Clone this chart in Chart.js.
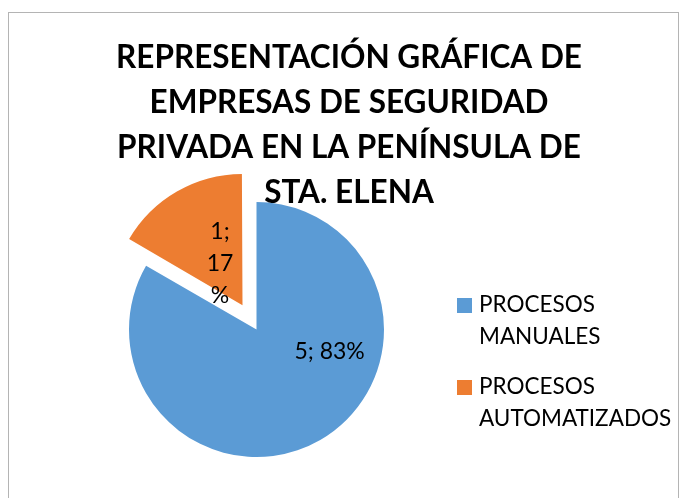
<!DOCTYPE html>
<html>
<head>
<meta charset="utf-8">
<script src="https://cdn.jsdelivr.net/npm/chart.js@4.4.0/dist/chart.umd.min.js"></script>
<style>
  html, body { margin: 0; padding: 0; background: #fff; }
  #wrap { position: relative; width: 686px; height: 498px; overflow: hidden; }
  #frame { position: absolute; left: 8px; top: 12px; width: 671px; height: 600px;
           border: 1px solid #b4b4b4; box-sizing: border-box; }
  #pie { position: absolute; left: 0; top: 0; }
</style>
</head>
<body>
<div id="wrap">
  <div id="frame"></div>
  <canvas id="pie" width="686" height="498"></canvas>
</div>
<script>
// datos del gráfico
const categories = ["PROCESOS MANUALES", "PROCESOS AUTOMATIZADOS"];
const values = [5, 1];
const percents = ["83%", "17 %"];
const titleLines = [
  "REPRESENTACIÓN GRÁFICA DE",
  "EMPRESAS DE SEGURIDAD",
  "PRIVADA EN LA PENÍNSULA DE",
  "STA. ELENA",
];
const colors = ["#5b9bd5", "#ed7d31"];

const FONT = "Lato, 'Noto Sans', sans-serif";

// título dibujado encima del gráfico (como en Excel, se superpone al pastel)
const titlePlugin = {
  id: "excelTitle",
  afterDraw(chart) {
    const ctx = chart.ctx;
    ctx.save();
    ctx.fillStyle = "#000";
    ctx.font = "bold 31.5px " + FONT;
    ctx.textAlign = "center";
    ctx.textBaseline = "middle";
    titleLines.forEach((line, i) => ctx.fillText(line, 349, 58 + i * 45));
    ctx.restore();
  },
};

// etiquetas "valor; %" dentro de cada sector
const labelPlugin = {
  id: "sliceLabels",
  afterDatasetsDraw(chart) {
    const ctx = chart.ctx;
    const meta = chart.getDatasetMeta(0);
    // posición dentro del sector: fracción del ángulo y del radio
    const place = [
      { a: 0.357, r: 0.6, lines: [values[0] + "; " + percents[0]] },
      { a: 0.525, r: 0.37, lines: [values[1] + ";", "17", "%"] },
    ];
    ctx.save();
    ctx.fillStyle = "#000";
    ctx.font = "23px " + FONT;
    ctx.textAlign = "center";
    ctx.textBaseline = "middle";
    meta.data.forEach((arc, i) => {
      const p = arc.getProps(["x", "y", "startAngle", "endAngle", "outerRadius"], true);
      // ArcElement desplaza el sector offset/4 en la dirección de su bisectriz
      const off = (arc.options.offset || 0) / 4;
      const mid = (p.startAngle + p.endAngle) / 2;
      const cx = p.x + Math.cos(mid) * off;
      const cy = p.y + Math.sin(mid) * off;
      const ang = p.startAngle + (p.endAngle - p.startAngle) * place[i].a;
      const x = cx + Math.cos(ang) * p.outerRadius * place[i].r;
      const y = cy + Math.sin(ang) * p.outerRadius * place[i].r;
      const lines = place[i].lines;
      lines.forEach((t, k) => ctx.fillText(t, x, y + (k - (lines.length - 1) / 2) * 32));
    });
    ctx.restore();
  },
};

// leyenda a la derecha con texto en dos líneas
const legendPlugin = {
  id: "sideLegend",
  afterDraw(chart) {
    const ctx = chart.ctx;
    ctx.save();
    ctx.font = "22.5px " + FONT;
    ctx.textBaseline = "middle";
    ctx.textAlign = "left";
    chart.data.labels.forEach((lab, i) => {
      const y = 305 + i * 82;
      ctx.fillStyle = chart.data.datasets[0].backgroundColor[i];
      ctx.fillRect(457, y - 7, 15, 15);
      ctx.fillStyle = "#000";
      lab.split(" ").forEach((w, k) => ctx.fillText(w, 479, y + k * 32));
    });
    ctx.restore();
  },
};

new Chart(document.getElementById("pie"), {
  type: "pie",
  data: {
    labels: categories,
    datasets: [
      {
        data: values,
        backgroundColor: colors,
        borderWidth: 0,
        offset: [0, 112],
      },
    ],
  },
  options: {
    responsive: false,
    animation: false,
    radius: 127.5,
    layout: { padding: { left: 114, right: 287, top: 187, bottom: 26 } },
    plugins: {
      legend: { display: false },
      title: { display: false },
      tooltip: { enabled: false },
    },
  },
  plugins: [labelPlugin, titlePlugin, legendPlugin],
});
</script>
</body>
</html>
